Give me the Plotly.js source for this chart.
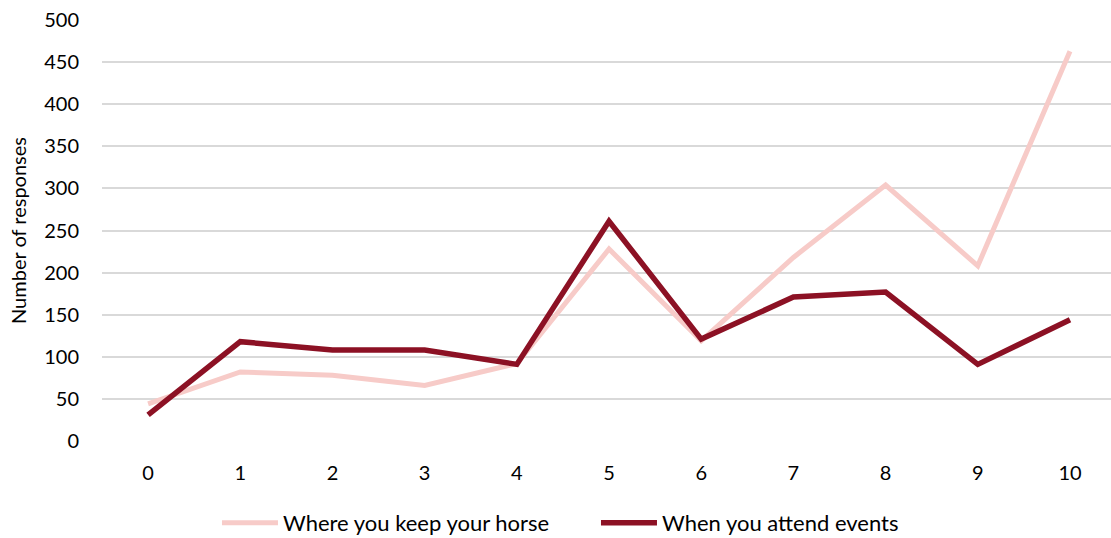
<!DOCTYPE html>
<html>
<head>
<meta charset="utf-8">
<script src="https://cdn.plot.ly/plotly-3.0.1.min.js"></script>
<style>html,body{margin:0;padding:0;background:#fff;}#chart{width:1111px;height:538px;}</style>
</head>
<body>
<div id="chart"></div>
<script>
const categories = [0, 1, 2, 3, 4, 5, 6, 7, 8, 9, 10];
const keepHorse = [44, 82, 78, 66, 92, 228, 119, 218, 304, 208, 463];
const attendEvents = [31, 118, 108, 108, 91, 261, 121, 171, 177, 91, 144];
const seriesNames = ["Where you keep your horse", "When you attend events"];
const yTicks = [0, 50, 100, 150, 200, 250, 300, 350, 400, 450, 500];

const font = "Lato, 'Open Sans', sans-serif";
const traces = [
  {x: categories, y: keepHorse, name: seriesNames[0], type: 'scatter', mode: 'lines',
   line: {color: '#F7CBC8', width: 5}},
  {x: categories, y: attendEvents, name: seriesNames[1], type: 'scatter', mode: 'lines',
   line: {color: '#8C1124', width: 5.5}}
];
const layout = {
  width: 1111, height: 538,
  margin: {l: 102, r: 0, t: 20, b: 97},
  paper_bgcolor: '#fff', plot_bgcolor: '#fff',
  font: {family: font, size: 20, color: '#000'},
  showlegend: true,
  legend: {orientation: 'h', xref: 'container', yref: 'container', x: 0.1953, y: 0.028,
           xanchor: 'left', yanchor: 'middle', itemwidth: 56, entrywidth: 308,
           font: {family: font, size: 22}, tracegroupgap: 0},
  xaxis: {range: [-0.5, 10.445], tickmode: 'array', tickvals: categories, ticktext: categories.map(String),
          showgrid: false, zeroline: false, showline: false, ticks: '', ticklabelstandoff: 18,
          tickfont: {family: font, size: 20}},
  yaxis: {range: [0, 500], tickmode: 'array', tickvals: yTicks, ticktext: yTicks.map(String),
          showgrid: true, gridcolor: '#D9D9D9', gridwidth: 2, zeroline: false, showline: false,
          ticks: '', ticklabelstandoff: 22, tickfont: {family: font, size: 20},
          title: {text: 'Number of responses', font: {family: font, size: 20}, standoff: 12}}
};
Plotly.newPlot('chart', traces, layout, {displayModeBar: false, staticPlot: true});
</script>
</body>
</html>
